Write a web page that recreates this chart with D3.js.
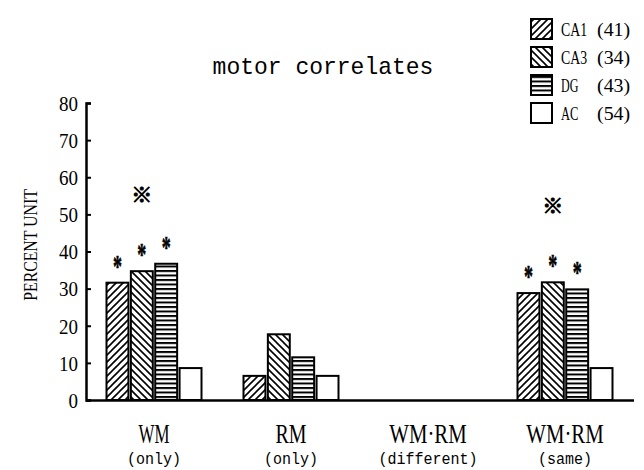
<!DOCTYPE html>
<html>
<head>
<meta charset="utf-8">
<script src="https://cdn.jsdelivr.net/npm/d3@7"></script>
<style>
  body { margin: 0; background: #fff; }
  svg { display: block; }
</style>
</head>
<body>
<svg id="chart"></svg>
<script>
// chart data
const categories = ["WM", "RM", "WM\u00b7RM", "WM\u00b7RM"];
const subLabels = ["(only)", "(only)", "(different)", "(same)"];
const series = ["CA1", "CA3", "DG", "AC"];
const cellCounts = [41, 34, 43, 54];
const ca1 = [31.6, 6.5, 0, 28.8];
const ca3 = [34.7, 17.7, 0, 31.7];
const dg = [36.7, 11.5, 0, 29.8];
const ac = [8.6, 6.5, 0, 8.6];
// "*" marks per group (CA1, CA3, DG, AC) and "※" per group
const starMarks = [[1, 1, 1, 0], [0, 0, 0, 0], [0, 0, 0, 0], [1, 1, 1, 0]];
const groupMarks = [1, 0, 0, 1];
const yTicks = [0, 10, 20, 30, 40, 50, 60, 70, 80];

const values = [ca1, ca3, dg, ac];
const fills = ["url(#hatchA)", "url(#hatchB)", "url(#hatchH)", "#fff"];

const svg = d3.select("#chart").attr("width", 644).attr("height", 470);

// patterns
const defs = svg.append("defs");
defs.append("pattern").attr("id", "hatchA")
    .attr("patternUnits", "userSpaceOnUse").attr("width", 7).attr("height", 7)
    .append("path")
    .attr("d", "M0,7 L7,0 M-1,1 L1,-1 M6,8 L8,6")
    .attr("stroke", "#000").attr("stroke-width", 1.6);
defs.append("pattern").attr("id", "hatchB")
    .attr("patternUnits", "userSpaceOnUse").attr("width", 7).attr("height", 7)
    .append("path")
    .attr("d", "M0,0 L7,7 M-1,6 L1,8 M6,-1 L8,1")
    .attr("stroke", "#000").attr("stroke-width", 1.6);
defs.append("pattern").attr("id", "hatchH")
    .attr("patternUnits", "userSpaceOnUse").attr("width", 8).attr("height", 4.5)
    .append("path")
    .attr("d", "M0,1 H8")
    .attr("stroke", "#000").attr("stroke-width", 2);

const y = d3.scaleLinear().domain([0, 80]).range([400, 103]);
const x = d3.scaleBand().domain(d3.range(categories.length)).range([85.5, 633.5]).padding(0);
const xs = d3.scaleBand().domain(series).range([-47.5, 47.5]).paddingInner(0.1);

function squeeze(sel, perChar) {
    sel.attr("textLength", function() { return this.textContent.length * perChar; })
        .attr("lengthAdjust", "spacingAndGlyphs");
}

// title
svg.append("text")
    .attr("x", 323).attr("y", 74)
    .attr("text-anchor", "middle")
    .style("font-family", "Liberation Mono")
    .style("font-size", "24px")
    .text("motor correlates")
    .call(squeeze, 13.8);

// bars
const groups = svg.append("g")
    .selectAll("g")
    .data(categories)
    .enter()
    .append("g")
    .attr("transform", (d, i) => `translate(${x(i) + x.bandwidth() / 2},0)`);

groups.each(function(cat, gi) {
    const g = d3.select(this);
    series.forEach((s, si) => {
        const v = values[si][gi];
        g.append("rect")
            .attr("x", xs(s))
            .attr("y", y(v))
            .attr("width", xs.bandwidth())
            .attr("height", y(0) - y(v))
            .attr("fill", fills[si])
            .attr("stroke", "#000")
            .attr("stroke-width", 2);
        if (starMarks[gi][si]) {
            // tall narrow asterisk, centred 20px above the bar
            g.append("text")
                .attr("x", xs(s) + xs.bandwidth() / 2 - 4.5)
                .attr("y", y(v) - 20 + 14)
                .attr("textLength", 9)
                .attr("lengthAdjust", "spacingAndGlyphs")
                .attr("fill", "#000")
                .attr("stroke", "#000")
                .attr("stroke-width", 0.6)
                .style("font-family", "Liberation Serif")
                .style("font-weight", "bold")
                .style("font-size", "31px")
                .text("*");
        }
    });
    if (groupMarks[gi]) {
        g.append("text")
            .attr("x", xs("CA3") + xs.bandwidth() / 2)
            .attr("y", y(values[1][gi]) - 78)
            .attr("text-anchor", "middle")
            .attr("dominant-baseline", "central")
            .attr("fill", "#000")
            .attr("stroke", "#000")
            .attr("stroke-width", 0.9)
            .style("font-family", "Noto Sans CJK JP")
            .style("font-size", "21px")
            .text("\u203b");
    }
});

// x axis
const xAxis = svg.append("g")
    .attr("transform", `translate(0,${y(0)})`)
    .call(d3.axisBottom(x).tickSize(0).tickFormat(""));
xAxis.select(".domain").attr("stroke-width", 2.5);

groups.append("text")
    .attr("y", 443)
    .attr("text-anchor", "middle")
    .style("font-family", "Liberation Serif")
    .style("font-size", "28px")
    .text(d => d)
    .call(squeeze, 15.5);

groups.append("text")
    .attr("y", 464)
    .attr("text-anchor", "middle")
    .style("font-family", "Liberation Mono")
    .style("font-size", "16px")
    .text((d, i) => subLabels[i])
    .call(squeeze, 9);

// y axis
const yAxis = svg.append("g")
    .attr("transform", "translate(86,0)")
    .call(d3.axisLeft(y).tickValues(yTicks).tickSizeInner(-5).tickSizeOuter(-5).tickPadding(8));
yAxis.select(".domain").attr("stroke-width", 2.5);
yAxis.selectAll(".tick line").attr("stroke-width", 2);
yAxis.selectAll("text")
    .style("font-family", "Liberation Serif")
    .style("font-size", "21px")
    .attr("dy", "0.35em")
    .call(squeeze, 9.5);

svg.append("text")
    .attr("transform", "translate(37,245) rotate(-90)")
    .attr("text-anchor", "middle")
    .style("font-family", "Liberation Serif")
    .style("font-size", "19px")
    .text("PERCENT UNIT")
    .call(squeeze, 9.3);

// legend
const legend = svg.append("g")
    .selectAll("g")
    .data(series)
    .enter()
    .append("g")
    .attr("transform", (d, i) => `translate(531,${29 + i * 28})`);

legend.append("rect")
    .attr("x", 0).attr("y", -10)
    .attr("width", 21).attr("height", 20)
    .attr("fill", (d, i) => fills[i])
    .attr("stroke", "#000")
    .attr("stroke-width", 2);

legend.append("text")
    .attr("x", 30).attr("y", 7)
    .style("font-family", "Liberation Serif")
    .style("font-size", "19px")
    .text(d => d)
    .call(squeeze, 8.7);

legend.append("text")
    .attr("x", 66).attr("y", 7)
    .style("font-family", "Liberation Serif")
    .style("font-size", "19px")
    .text((d, i) => `(${cellCounts[i]})`)
    .call(squeeze, 8.3);
</script>
</body>
</html>
